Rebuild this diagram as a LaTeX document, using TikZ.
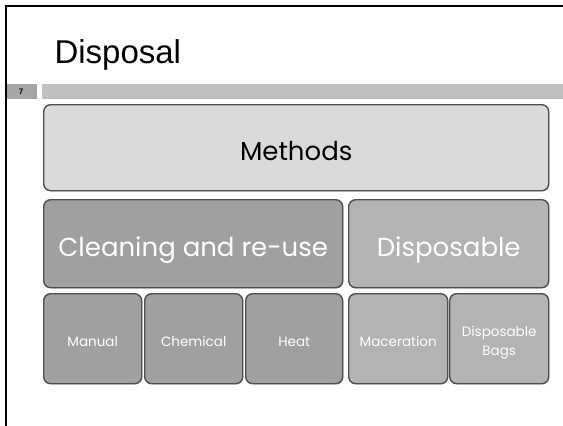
\documentclass[tikz,border=0pt]{standalone}
\usepackage{fontspec}
\setmainfont{Liberation Sans}
\newfontfamily\gothic{Poppins}
\usetikzlibrary{shadows}
\definecolor{boxline}{HTML}{4F4F4F}
\definecolor{topfill}{HTML}{DADADA}
\definecolor{leftfill}{HTML}{A0A0A0}
\definecolor{rightfill}{HTML}{B3B3B3}
\definecolor{barlight}{HTML}{BFBFBF}
\definecolor{bardark}{HTML}{A5A5A5}

\begin{document}
\begin{tikzpicture}[x=1pt,y=-1pt,
    tile/.style={draw=boxline, line width=1.4pt, rounded corners=7pt, anchor=north west,
      inner sep=2pt, align=center, text=white, font=\gothic,
      drop shadow={opacity=0.3, shadow xshift=0.8pt, shadow yshift=-0.8pt}},
    big/.style={font=\gothic\fontsize{26}{30}\selectfont, text height=25pt, text depth=0pt},
    small/.style={font=\gothic\fontsize{13.5}{18}\selectfont, text height=15pt, text depth=0pt}]
    \useasboundingbox (0,0) rectangle (563,426);

    % frame and bar
    \draw[line width=2.5pt] (6,426) -- (6,6) -- (563,6);
    \fill[barlight] (42,84) rectangle (563,99);
    \fill[bardark] (7,84) rectangle (37,99);
    \node[font=\bfseries\fontsize{8}{9}\selectfont] (num) at (21,91.5) {7};

    \node[anchor=base west, font=\fontsize{33}{36}\selectfont] (title) at (51,63) {Disposal};

    % top row
    \node[tile, big, fill=topfill, text=black, minimum width=505pt, minimum height=86pt] (methods) at (43,104) {Methods};

    % middle row
    \node[tile, big, fill=leftfill, minimum width=299pt, minimum height=88pt] (cleaning) at (43,199) {Cleaning and re-use};
    \node[tile, big, fill=rightfill, minimum width=200pt, minimum height=88pt] (disposable) at (348,199) {Disposable};

    % bottom row
    \node[tile, small, fill=leftfill, minimum width=98pt, minimum height=90pt] (manual) at (43,293) {Manual};
    \node[tile, small, fill=leftfill, minimum width=98pt, minimum height=90pt] (chemical) at (144,293) {Chemical};
    \node[tile, small, fill=leftfill, minimum width=97pt, minimum height=90pt] (heat) at (245,293) {Heat};
    \node[tile, small, fill=rightfill, minimum width=99pt, minimum height=90pt] (maceration) at (348,293) {Maceration};
    \node[tile, fill=rightfill, minimum width=99pt, minimum height=90pt] (bags) at (449,293) {};
    \node[align=center, text=white, font=\gothic\fontsize{13.5}{19}\selectfont] (bagstext) at ([yshift=-4pt]bags.center) {Disposable\\Bags};

\end{tikzpicture}
\end{document}
